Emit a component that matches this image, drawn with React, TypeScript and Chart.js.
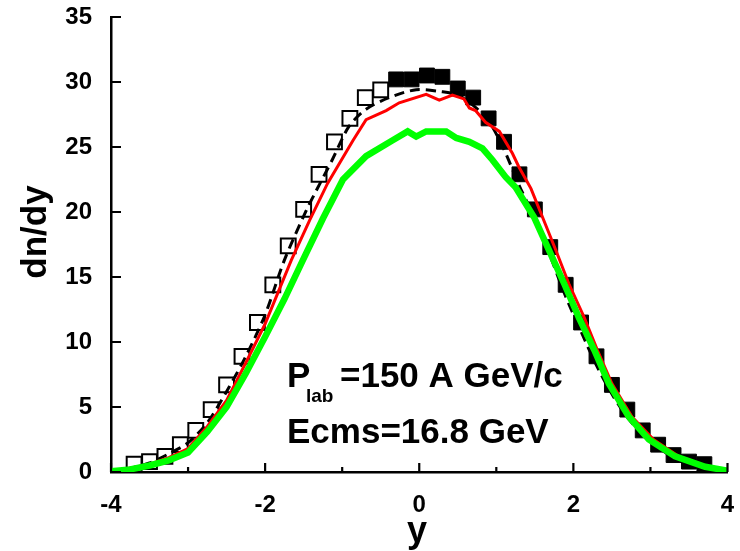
import React, { useEffect, useRef } from "react";
import { Chart, registerables } from "chart.js";

Chart.register(...registerables);

// Experimental data (open squares: reflected, filled squares: measured)
const openX = [-3.7, -3.5, -3.3, -3.1, -2.9, -2.7, -2.5, -2.3, -2.1, -1.9, -1.7, -1.5, -1.3, -1.1, -0.9, -0.7, -0.5];
const openY = [0.6, 0.8, 1.2, 2.1, 3.2, 4.8, 6.7, 8.9, 11.5, 14.4, 17.4, 20.2, 22.9, 25.4, 27.2, 28.8, 29.4];
const filledX = [-0.3, -0.1, 0.1, 0.3, 0.5, 0.7, 0.9, 1.1, 1.3, 1.5, 1.7, 1.9, 2.1, 2.3, 2.5, 2.7, 2.9, 3.1, 3.3, 3.5, 3.7];
const filledY = [30.2, 30.2, 30.5, 30.4, 29.5, 28.8, 27.2, 25.4, 22.9, 20.2, 17.3, 14.4, 11.5, 8.9, 6.7, 4.8, 3.2, 2.1, 1.3, 0.8, 0.6];

// Red model curve
const redX = [-4.0, -3.75, -3.5, -3.25, -3.0, -2.75, -2.5, -2.25, -2.0, -1.66, -1.42, -1.19, -0.86, -0.69, -0.43, -0.26, 0.09, 0.26, 0.43, 0.58, 0.65, 0.73, 0.86, 1.04, 1.21, 1.29, 1.45, 1.6, 1.77, 1.94, 2.14, 2.31, 2.5, 2.76, 3.04, 3.37, 3.75, 3.95];
const redY = [0.05, 0.3, 0.6, 1.1, 1.8, 3.5, 5.5, 8.4, 11.4, 16.3, 19.4, 22.2, 25.5, 27.1, 27.8, 28.4, 29.05, 28.6, 29.0, 28.7, 28.0, 27.8, 26.9, 26.2, 24.5, 23.5, 21.8, 19.6, 17.1, 14.5, 11.9, 9.4, 6.8, 4.25, 2.5, 1.2, 0.4, 0.15];

// Green model curve
const greenX = [-4.0, -3.75, -3.5, -3.25, -3.0, -2.75, -2.5, -2.25, -2.0, -1.75, -1.51, -1.25, -0.99, -0.69, -0.35, -0.15, -0.04, 0.09, 0.35, 0.48, 0.65, 0.82, 0.95, 1.12, 1.25, 1.49, 1.68, 1.88, 2.07, 2.27, 2.46, 2.72, 2.98, 3.32, 3.71, 4.0];
const greenY = [0.05, 0.2, 0.5, 0.9, 1.5, 3.1, 5.0, 7.6, 10.4, 13.3, 16.3, 19.5, 22.5, 24.3, 25.5, 26.2, 25.8, 26.2, 26.2, 25.7, 25.4, 24.9, 24.0, 22.7, 21.9, 19.6, 17.1, 14.5, 11.9, 9.4, 6.8, 4.25, 2.5, 1.2, 0.4, 0.1];

// Black dashed model curve
const dashX = [-4.0, -3.75, -3.5, -3.25, -3.0, -2.75, -2.5, -2.25, -2.0, -1.75, -1.46, -1.34, -1.13, -0.91, -0.69, -0.39, -0.04, 0.3, 0.5, 0.7, 0.9, 1.1, 1.3, 1.5, 1.7, 1.9, 2.1, 2.3, 2.5, 2.7, 2.9, 3.1, 3.3, 3.5, 3.7, 4.0];
const dashY = [0.1, 0.3, 0.7, 1.4, 2.25, 3.8, 6.2, 8.9, 12.1, 16.3, 20.2, 21.6, 24.0, 26.6, 27.9, 28.8, 29.4, 29.25, 29.0, 28.2, 27.0, 24.8, 22.0, 19.5, 16.6, 13.5, 10.8, 8.2, 6.0, 4.2, 2.9, 1.9, 1.1, 0.6, 0.3, 0.1];

const yTicksMajor = [0, 5, 10, 15, 20, 25, 30, 35];
const xTicksMajor = [-4, -2, 0, 2, 4];
const xTicksMinor = [-3, -1, 1, 3];

const xTitle = "y";
const yTitle = "dn/dy";
const label1Main = "P";
const label1Sub = "lab";
const label1Rest = "=150 A GeV/c";
const label2 = "Ecms=16.8 GeV";

const FONT = "'Liberation Sans', Arial, sans-serif";

const pts = (xs: number[], ys: number[]) => xs.map((x, i) => ({ x, y: ys[i] }));

const decorPlugin = {
  id: "decor",
  afterDraw(chart: any) {
    const ctx = chart.ctx;
    const xs = chart.scales.x;
    const ys = chart.scales.y;
    const area = chart.chartArea;
    ctx.save();
    ctx.strokeStyle = "#000";
    ctx.lineWidth = 2.2;
    ctx.beginPath();
    yTicksMajor.forEach((v) => {
      const py = ys.getPixelForValue(v);
      ctx.moveTo(area.left, py);
      ctx.lineTo(area.left + 10, py);
    });
    xTicksMajor.forEach((v) => {
      const px = xs.getPixelForValue(v);
      ctx.moveTo(px, area.bottom);
      ctx.lineTo(px, area.bottom - 9);
    });
    xTicksMinor.forEach((v) => {
      const px = xs.getPixelForValue(v);
      ctx.moveTo(px, area.bottom);
      ctx.lineTo(px, area.bottom - 5);
    });
    ctx.stroke();

    ctx.fillStyle = "#000";
    ctx.textBaseline = "alphabetic";
    ctx.textAlign = "left";
    ctx.font = `bold 35px ${FONT}`;
    ctx.fillText(label1Main, 287, 387);
    ctx.fillText(label1Rest, 340, 387);
    ctx.fillText(label2, 287, 443);
    ctx.font = `bold 19px ${FONT}`;
    ctx.fillText(label1Sub, 306, 402);

    ctx.font = `bold 36px ${FONT}`;
    ctx.textAlign = "center";
    ctx.fillText(xTitle, 417, 542);

    ctx.translate(46, 232);
    ctx.rotate(-Math.PI / 2);
    ctx.font = `bold 35px ${FONT}`;
    ctx.fillText(yTitle, 0, 0);
    ctx.restore();
  },
};

export default function App() {
  const ref = useRef<HTMLCanvasElement | null>(null);
  useEffect(() => {
    if (!ref.current) return;
    const chart = new Chart(ref.current, {
      type: "scatter",
      data: {
        datasets: [
          {
            label: "green",
            data: pts(greenX, greenY),
            showLine: true,
            borderColor: "#00ff00",
            borderWidth: 6.5,
            pointRadius: 0,
            tension: 0,
          },
          {
            label: "red",
            data: pts(redX, redY),
            showLine: true,
            borderColor: "#ff0000",
            borderWidth: 3,
            pointRadius: 0,
            tension: 0,
          },
          {
            label: "open",
            data: pts(openX, openY),
            showLine: false,
            pointStyle: "rect",
            pointRadius: 10.5,
            backgroundColor: "rgba(0,0,0,0)",
            borderColor: "#000",
            borderWidth: 2,
          },
          {
            label: "filled",
            data: pts(filledX, filledY),
            showLine: false,
            pointStyle: "rect",
            pointRadius: 10.5,
            backgroundColor: "#000",
            borderColor: "#000",
            borderWidth: 1,
          },
          {
            label: "dashed",
            data: pts(dashX, dashY),
            showLine: true,
            borderColor: "#000",
            borderWidth: 3,
            borderDash: [10, 6],
            pointRadius: 0,
            tension: 0.3,
          },
        ],
      },
      options: {
        responsive: false,
        animation: false,
        events: [],
        layout: { padding: { left: 0, top: 17, right: 11, bottom: 0 } },
        plugins: {
          legend: { display: false },
          tooltip: { enabled: false },
        },
        scales: {
          x: {
            type: "linear",
            min: -4,
            max: 4,
            grid: { display: false },
            border: { display: true, color: "#000", width: 2.5 },
            ticks: {
              stepSize: 2,
              padding: 11,
              color: "#000",
              font: { family: FONT, size: 24, weight: "bold" },
            },
            afterFit: (s: any) => {
              s.height = 79;
              s.paddingLeft = 0;
              s.paddingRight = 0;
            },
          },
          y: {
            type: "linear",
            min: 0,
            max: 35,
            grid: { display: false },
            border: { display: true, color: "#000", width: 2.5 },
            ticks: {
              stepSize: 5,
              padding: 11,
              color: "#000",
              font: { family: FONT, size: 24, weight: "bold" },
            },
            afterFit: (s: any) => {
              s.width = 111;
              s.paddingTop = 0;
              s.paddingBottom = 0;
            },
          },
        },
      },
      plugins: [decorPlugin],
    });
    return () => chart.destroy();
  }, []);
  return (
    <div style={{ position: "absolute", left: 0, top: 0, width: 740, height: 551, background: "#fff" }}>
      <canvas ref={ref} width={740} height={551} />
    </div>
  );
}
